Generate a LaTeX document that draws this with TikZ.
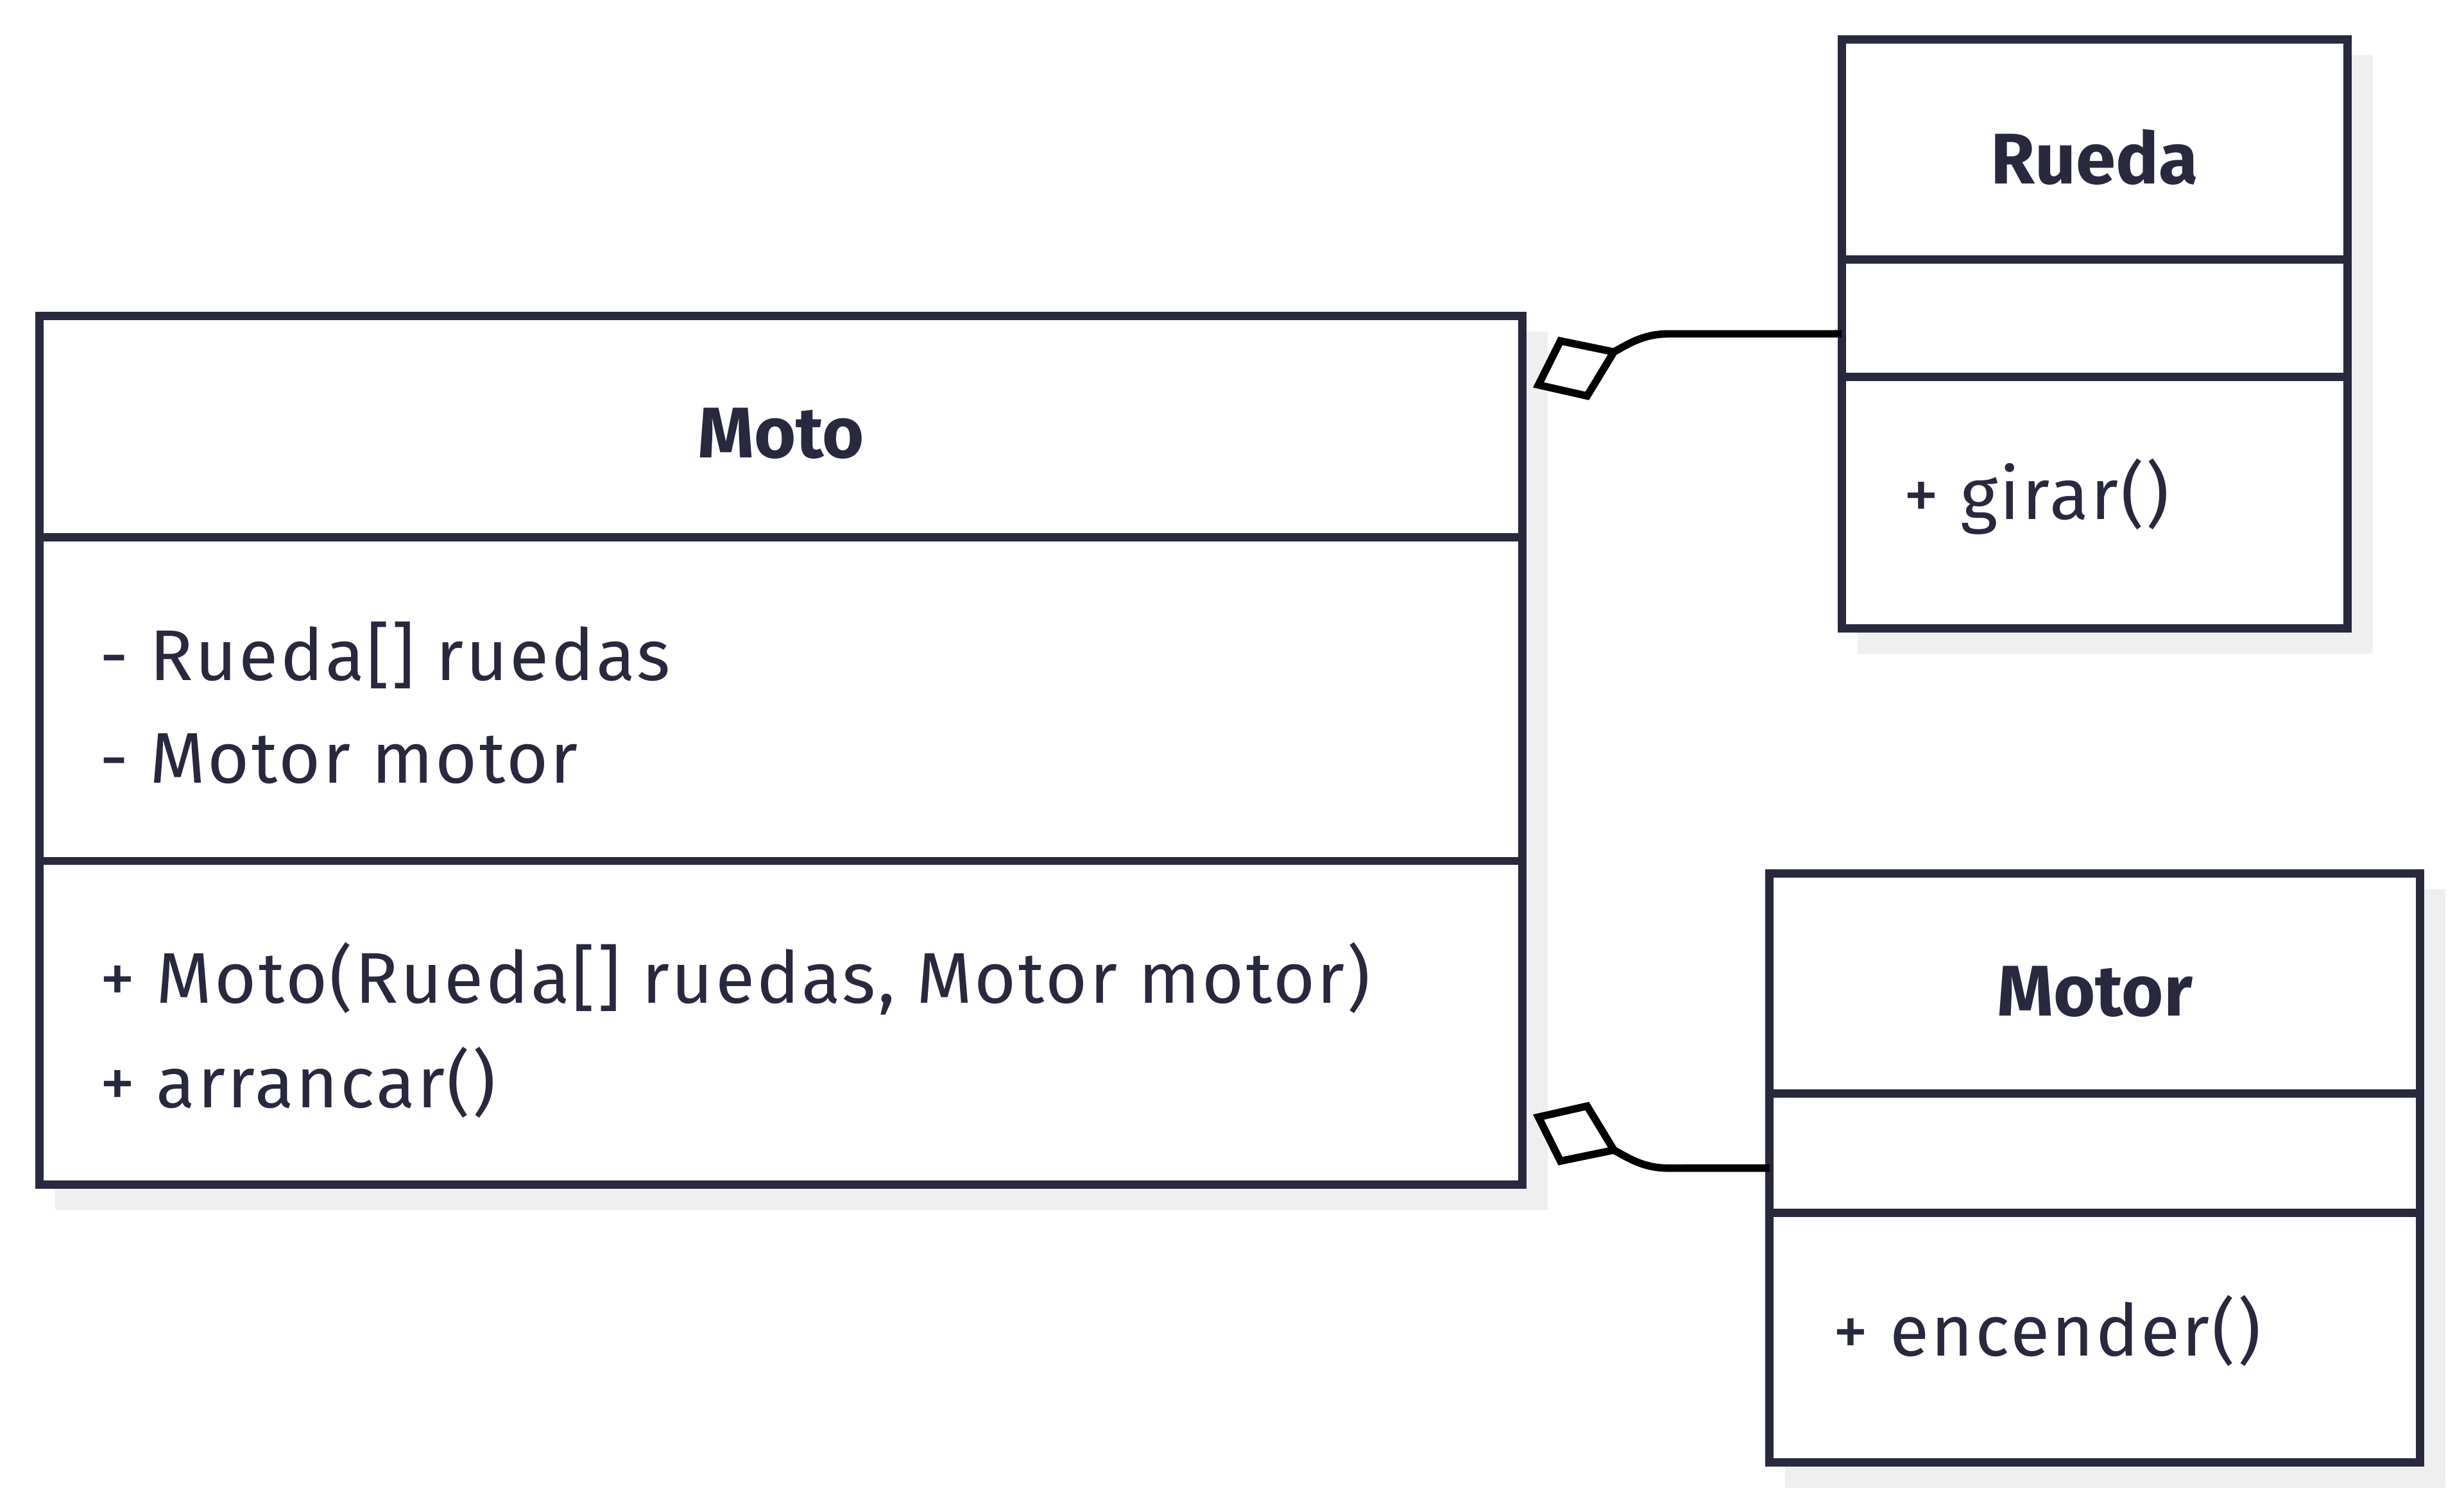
\documentclass[tikz,border=0pt]{standalone}
\usepackage{fontspec}
\setmainfont{Fira Sans}
\newfontfamily\memberfont[LetterSpace=3]{Fira Sans}
\definecolor{ink}{RGB}{40,40,62}
\definecolor{shade}{RGB}{239,239,239}
\begin{document}
\begin{tikzpicture}[x=0.02cm,y=-0.02cm,
 box/.style={draw=ink, line width=0.105cm, fill=white, inner sep=0pt, outer sep=0pt, anchor=north west},
 shadowbox/.style={fill=shade, draw=none},
 divider/.style={draw=ink, line width=0.105cm},
 title/.style={font=\fontsize{26}{30}\selectfont\bfseries, text=ink},
 member/.style={font=\memberfont\fontsize{26}{30}\selectfont, text=ink, anchor=west, inner sep=0pt},
 link/.style={draw=black, line width=0.095cm},
 agg/.style={draw=black, line width=0.095cm, fill=white, line join=miter}]
\useasboundingbox (0,0) rectangle (1568,959);
% shadows
\fill[shadowbox] (35,211) rectangle (985,770);
\fill[shadowbox] (1182,35) rectangle (1510,416);
\fill[shadowbox] (1136,566) rectangle (1556,947);
% boxes
\node[box, minimum width=18.88cm, minimum height=11.06cm] (moto) at (25,201) {};
\node[box, minimum width=6.44cm, minimum height=7.5cm] (rueda) at (1172,25) {};
\node[box, minimum width=8.28cm, minimum height=7.5cm] (motor) at (1126,556) {};
% dividers
\draw[divider] (25,342) -- (969,342);
\draw[divider] (25,548) -- (969,548);
\draw[divider] (1172,165) -- (1494,165);
\draw[divider] (1172,240) -- (1494,240);
\draw[divider] (1126,696) -- (1540,696);
\draw[divider] (1126,772) -- (1540,772);
% texts
\node[title] (motoT) at (497,276) {Moto};
\node[member] (motoA1) at (63,417) {- Rueda[] ruedas};
\node[member] (motoA2) at (63,483) {- Motor motor};
\node[member] (motoM1) at (63,623) {+ Moto(Rueda[] ruedas, Motor motor)};
\node[member] (motoM2) at (63,689) {+ arrancar()};
\node[title] (ruedaT) at (1333,100) {Rueda};
\node[member] (ruedaM1) at (1211,316) {+ girar()};
\node[title] (motorT) at (1333,631) {Motor};
\node[member] (motorM1) at (1166,847) {+ encender()};
% aggregation connectors
\coordinate (d1) at (1027,224);
\coordinate (d2) at (1027,732);
\coordinate (r1) at (1062,212.5);
\coordinate (r2) at (1062,743.5);
\draw[agg] (d1) -- (993,217) -- (979,245) -- (1010,252) -- cycle;
\draw[agg] (d2) -- (993,739) -- (979,711) -- (1010,704) -- cycle;
\draw[link] (rueda.west) -- (r1) .. controls (1046,212.5) and (1037,218.5) .. (d1);
\draw[link] (motor.west) -- (r2) .. controls (1046,743.5) and (1037,737.5) .. (d2);
\end{tikzpicture}
\end{document}
